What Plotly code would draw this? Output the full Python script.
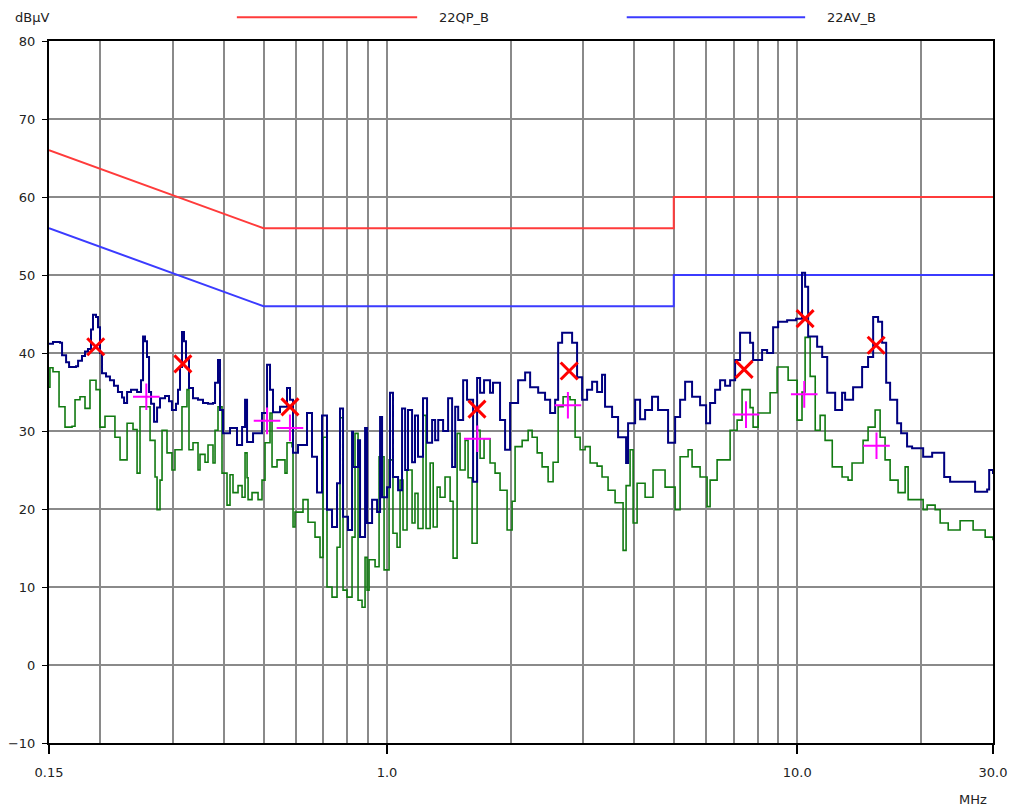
import plotly.graph_objects as go

# ---------------- data ----------------
pk_freq = [0.150, 0.1534, 0.1596, 0.1614, 0.1651, 0.1679, 0.1746, 0.1766, 0.1805, 0.1836,
           0.1867, 0.1899, 0.1920, 0.1953, 0.1975, 0.1997, 0.2020, 0.2066, 0.2112, 0.2160,
           0.2209, 0.2260, 0.2286, 0.2325, 0.2377, 0.2459, 0.2514, 0.2543, 0.2571, 0.2600,
           0.2630, 0.2660, 0.2705, 0.2751, 0.2797, 0.2877, 0.2942, 0.2991, 0.3059, 0.3094,
           0.3129, 0.3164, 0.3200, 0.3236, 0.3291, 0.3366, 0.3462, 0.3560, 0.3662, 0.3766,
           0.3809, 0.3873, 0.3917, 0.3984, 0.4143, 0.4309, 0.4433, 0.4508, 0.4559, 0.4715,
           0.4958, 0.5100, 0.5186, 0.5274, 0.5485, 0.5705, 0.5802, 0.5901, 0.6069, 0.6383,
           0.6564, 0.6751, 0.6944, 0.7141, 0.7345, 0.7554, 0.7682, 0.7813, 0.8035, 0.8218,
           0.8264, 0.8500, 0.8596, 0.8841, 0.8941, 0.9196, 0.9458, 0.9618, 0.9727, 1.0004,
           1.017, 1.034, 1.064, 1.088, 1.107, 1.125, 1.151, 1.170, 1.190, 1.224,
           1.252, 1.288, 1.310, 1.333, 1.370, 1.409, 1.441, 1.466, 1.491, 1.533,
           1.567, 1.612, 1.621, 1.658, 1.686, 1.724, 1.783, 1.813, 1.865, 1.886,
           1.940, 1.995, 2.087, 2.171, 2.233, 2.336, 2.428, 2.498, 2.569, 2.613,
           2.672, 2.794, 2.826, 2.906, 2.989, 3.074, 3.162, 3.252, 3.343, 3.400,
           3.537, 3.658, 3.783, 3.826, 3.869, 4.025, 4.139, 4.257, 4.426, 4.578,
           4.843, 5.038, 5.181, 5.329, 5.541, 5.796, 5.995, 6.131, 6.306, 6.485,
           6.670, 6.860, 7.055, 7.254, 7.545, 7.674, 7.804, 7.982, 8.209, 8.443,
           8.732, 8.981, 9.446, 9.936, 10.16, 10.27, 10.45, 10.63, 11.18, 11.50,
           11.83, 12.37, 12.86, 13.08, 13.68, 14.39, 14.88, 15.31, 15.74, 16.10,
           16.47, 16.84, 17.52, 17.91, 18.52, 19.05, 20.27, 21.32, 22.81, 23.58,
           26.68, 27.13, 29.03, 29.36, 30.0]
pk_db = [41.2, 41.4, 41.3, 39.7, 38.8, 38.2, 38.3, 39.0, 39.6, 40.2,
         40.5, 43.0, 44.9, 44.6, 43.3, 40.0, 37.4, 37.0, 36.5, 35.8,
         35.0, 34.3, 33.6, 35.0, 35.3, 35.0, 36.5, 42.1, 41.5, 39.5,
         35.0, 33.5, 31.2, 33.0, 34.2, 34.5, 33.8, 32.7, 33.5, 35.3,
         38.2, 42.7, 41.5, 39.1, 35.5, 34.2, 34.0, 33.6, 33.5, 33.6,
         36.2, 39.1, 32.7, 29.7, 30.4, 28.2, 30.5, 34.0, 28.6, 29.7,
         32.3, 38.5, 35.3, 32.4, 33.1, 35.5, 34.0, 27.2, 28.2, 32.3,
         26.7, 22.1, 32.0, 19.9, 17.7, 23.3, 32.9, 19.0, 17.3, 29.9,
         25.4, 28.8, 16.4, 30.4, 18.2, 21.2, 19.6, 31.8, 21.5, 22.8,
         34.9, 24.1, 22.4, 32.9, 25.0, 32.7, 26.0, 32.0, 26.7, 34.2,
         28.5, 31.4, 28.8, 31.4, 30.0, 34.2, 25.4, 33.1, 31.4, 36.5,
         34.0, 34.0, 23.5, 36.8, 34.9, 36.5, 34.9, 36.2, 36.2, 31.4,
         27.6, 33.6, 36.5, 37.5, 35.6, 34.9, 34.0, 32.3, 34.0, 41.3,
         42.6, 42.6, 41.3, 36.9, 34.0, 35.3, 36.3, 35.0, 37.2, 33.1,
         31.8, 29.2, 29.2, 25.9, 31.0, 34.0, 31.5, 32.7, 34.4, 32.7,
         28.5, 31.8, 34.0, 36.3, 34.4, 33.3, 31.0, 33.6, 35.3, 36.5,
         35.8, 36.5, 39.1, 42.6, 42.6, 41.3, 39.1, 39.1, 40.4, 40.0,
         43.3, 44.0, 44.2, 44.4, 44.4, 50.3, 48.5, 42.1, 40.8, 39.5,
         34.9, 32.7, 34.9, 34.0, 35.6, 38.2, 39.5, 44.6, 44.0, 41.3,
         36.2, 34.0, 31.0, 29.7, 28.0, 27.8, 26.7, 27.2, 24.1, 23.5,
         23.5, 22.2, 22.5, 25.0, 24.5]

av_freq = [0.150, 0.1508, 0.1534, 0.1587, 0.1641, 0.1707, 0.1736, 0.1785, 0.1836, 0.1888,
           0.1953, 0.1997, 0.2054, 0.2172, 0.2235, 0.2325, 0.2404, 0.2459, 0.2500, 0.2645,
           0.2720, 0.2751, 0.2797, 0.2829, 0.2909, 0.2991, 0.3042, 0.3164, 0.3254, 0.3291,
           0.3366, 0.3462, 0.3501, 0.3601, 0.3662, 0.3766, 0.3809, 0.3873, 0.3961, 0.4074,
           0.4143, 0.4213, 0.4334, 0.4433, 0.4508, 0.4559, 0.4585, 0.4688, 0.4849, 0.4958,
           0.5043, 0.5186, 0.5245, 0.5394, 0.5641, 0.5705, 0.5868, 0.5901, 0.5967, 0.6241,
           0.6419, 0.6676, 0.6866, 0.6983, 0.7141, 0.7345, 0.7554, 0.7682, 0.7813, 0.7990,
           0.8218, 0.8357, 0.8500, 0.8693, 0.8841, 0.8941, 0.9041, 0.9352, 0.9564, 0.9836,
           1.0116, 1.034, 1.058, 1.076, 1.094, 1.119, 1.151, 1.170, 1.190, 1.224,
           1.245, 1.274, 1.296, 1.325, 1.347, 1.385, 1.425, 1.449, 1.482, 1.507,
           1.550, 1.576, 1.612, 1.658, 1.686, 1.724, 1.783, 1.834, 1.886, 1.962,
           2.018, 2.052, 2.135, 2.208, 2.258, 2.323, 2.388, 2.470, 2.540, 2.613,
           2.687, 2.794, 2.874, 2.956, 3.040, 3.127, 3.252, 3.343, 3.458, 3.597,
           3.762, 3.826, 3.913, 3.980, 4.070, 4.257, 4.451, 4.762, 5.038, 5.181,
           5.419, 5.541, 5.796, 6.028, 6.131, 6.377, 6.860, 7.135, 7.336, 7.674,
           7.804, 8.027, 8.586, 8.930, 9.500, 9.991, 10.27, 10.45, 10.75, 11.06,
           11.37, 11.69, 12.17, 12.86, 13.30, 13.60, 14.47, 14.88, 15.48, 15.92,
           16.37, 16.84, 17.61, 18.32, 18.63, 20.27, 20.73, 21.68, 22.30, 23.33,
           24.94, 26.83, 28.71, 30.0]
av_db = [35.6, 38.1, 37.6, 33.1, 30.5, 30.6, 34.0, 34.4, 32.9, 36.5,
         35.3, 30.5, 31.9, 29.2, 26.3, 31.0, 30.2, 24.6, 33.1, 28.8,
         24.1, 19.9, 23.7, 30.1, 27.2, 25.0, 27.6, 33.1, 35.3, 27.6,
         28.5, 25.0, 27.0, 26.0, 28.2, 25.9, 30.1, 33.1, 24.6, 20.5,
         24.4, 22.1, 23.0, 21.5, 27.2, 24.0, 21.2, 22.1, 21.2, 23.7,
         28.5, 32.3, 25.4, 26.3, 24.6, 28.5, 28.0, 17.7, 19.6, 21.2,
         18.3, 16.4, 13.8, 29.2, 10.0, 8.7, 15.1, 31.7, 9.6, 8.7,
         16.4, 29.7, 8.3, 7.4, 13.8, 9.6, 13.5, 12.6, 26.7, 12.2,
         26.3, 16.9, 15.1, 23.7, 17.3, 25.0, 18.2, 22.0, 17.5, 32.0,
         17.5, 25.9, 17.7, 22.8, 21.5, 24.1, 21.0, 13.7, 29.7, 25.0,
         28.8, 24.0, 15.6, 30.1, 26.5, 29.0, 25.9, 24.6, 22.4, 17.3,
         21.0, 28.0, 28.8, 30.1, 29.2, 27.2, 25.4, 23.5, 26.0, 33.1,
         34.4, 34.0, 29.2, 27.6, 28.0, 25.9, 25.5, 24.1, 22.4, 20.8,
         14.7, 23.0, 27.6, 18.2, 23.3, 21.5, 25.0, 22.8, 19.9, 26.7,
         27.6, 25.4, 24.1, 20.3, 23.7, 26.3, 30.1, 31.4, 35.3, 33.0,
         30.5, 32.3, 34.9, 38.2, 36.5, 31.4, 35.0, 42.0, 37.0, 30.1,
         32.0, 28.8, 25.4, 24.1, 23.7, 25.9, 28.8, 30.5, 32.7, 29.2,
         26.3, 23.7, 22.1, 25.4, 21.2, 19.9, 20.5, 19.9, 18.2, 17.3,
         18.5, 17.3, 16.4, 16.0]

# limit lines (CISPR 22 class B)
lim_freq = [0.15, 0.5, 5.0, 5.0, 30.0]
qp_limit = [66, 56, 56, 60, 60]
av_limit = [56, 46, 46, 50, 50]

# final measurement markers
qp_mk_freq = [0.195, 0.318, 0.580, 1.657, 2.78, 7.42, 10.45, 15.57]
qp_mk_db = [40.8, 38.6, 33.1, 32.8, 37.7, 37.9, 44.4, 41.0]
av_mk_freq = [0.259, 0.51, 0.58, 1.66, 2.76, 7.5, 10.4, 15.6]
av_mk_db = [34.4, 31.3, 30.4, 29.0, 33.3, 32.1, 34.7, 28.1]

x_labels = ["0.15", "1.0", "10.0", "30.0"]
x_label_vals = [0.15, 1.0, 10.0, 30.0]
x_grid_minor = [0.2, 0.3, 0.4, 0.5, 0.6, 0.7, 0.8, 0.9,
                2, 3, 4, 5, 6, 7, 8, 9, 20]

# ---------------- figure ----------------
FONT = "DejaVu Sans, Liberation Sans, sans-serif"
TXT = "#222222"
FS = 13
fig = go.Figure()

fig.add_trace(go.Scatter(x=lim_freq, y=qp_limit, mode="lines", name="22QP_B",
                         line=dict(color="#ff3b3b", width=2), showlegend=False))
fig.add_trace(go.Scatter(x=lim_freq, y=av_limit, mode="lines", name="22AV_B",
                         line=dict(color="#3b3bff", width=2), showlegend=False))
fig.add_trace(go.Scatter(x=av_freq, y=av_db, mode="lines", name="AV",
                         line=dict(color="#117a11", width=1.6, shape="hv"), showlegend=False))
fig.add_trace(go.Scatter(x=pk_freq, y=pk_db, mode="lines", name="PK",
                         line=dict(color="#000080", width=2, shape="hv"), showlegend=False))
fig.add_trace(go.Scatter(x=qp_mk_freq, y=qp_mk_db, mode="markers", name="QP",
                         marker=dict(symbol="x-thin", size=17, color="#ff0000",
                                     line=dict(color="#ff0000", width=3)),
                         showlegend=False))
fig.add_trace(go.Scatter(x=av_mk_freq, y=av_mk_db, mode="markers", name="AVm",
                         marker=dict(symbol="cross-thin", size=19, color="#ff00ff",
                                     line=dict(color="#ff00ff", width=2)),
                         showlegend=False))

# custom legend (long line samples like the reference)
legend_items = [("22QP_B", "#ff3b3b", 0.199, 0.390, 0.411),
                ("22AV_B", "#3b3bff", 0.612, 0.801, 0.822)]
for name, col, x0, x1, xt in legend_items:
    fig.add_shape(type="line", xref="paper", yref="paper", x0=x0, x1=x1,
                  y0=1.034, y1=1.034, line=dict(color=col, width=2))
    fig.add_annotation(text=name, xref="paper", yref="paper", x=xt, y=1.034,
                       xanchor="left", yanchor="middle", showarrow=False,
                       font=dict(family=FONT, size=FS, color=TXT))

fig.add_annotation(text="dBµV", xref="paper", yref="paper", x=-0.038, y=1.034,
                   xanchor="left", yanchor="middle", showarrow=False,
                   font=dict(family=FONT, size=FS, color=TXT))
fig.add_annotation(text="MHz", xref="paper", yref="paper", x=0.996, y=-0.080,
                   xanchor="right", yanchor="middle", showarrow=False,
                   font=dict(family=FONT, size=FS, color=TXT))

# the page body adds an 8 px margin, so the figure is sized/offset to fit
fig.update_layout(
    width=1013, height=801,
    margin=dict(l=41, r=28, t=33, b=66),
    paper_bgcolor="white", plot_bgcolor="white",
    font=dict(family=FONT, size=FS, color=TXT),
    xaxis=dict(type="log", range=[-0.8239, 1.4771], automargin=False,
               tickvals=x_label_vals, ticktext=x_labels,
               ticks="outside", ticklen=9, tickwidth=2, tickcolor="black",
               ticklabelstandoff=7,
               showgrid=True, gridcolor="#8a8a8a", gridwidth=2,
               minor=dict(tickvals=x_grid_minor, showgrid=True,
                          gridcolor="#8a8a8a", gridwidth=2, ticks=""),
               showline=True, linecolor="black", linewidth=2, mirror=True,
               zeroline=False),
    yaxis=dict(range=[-10, 80], dtick=10, tick0=0, automargin=False,
               ticks="outside", ticklen=5, tickwidth=1, tickcolor="black",
               ticklabelstandoff=4,
               showgrid=True, gridcolor="#8a8a8a", gridwidth=2,
               showline=True, linecolor="black", linewidth=2, mirror=True,
               zeroline=False),
)

fig.write_html("out.html")
